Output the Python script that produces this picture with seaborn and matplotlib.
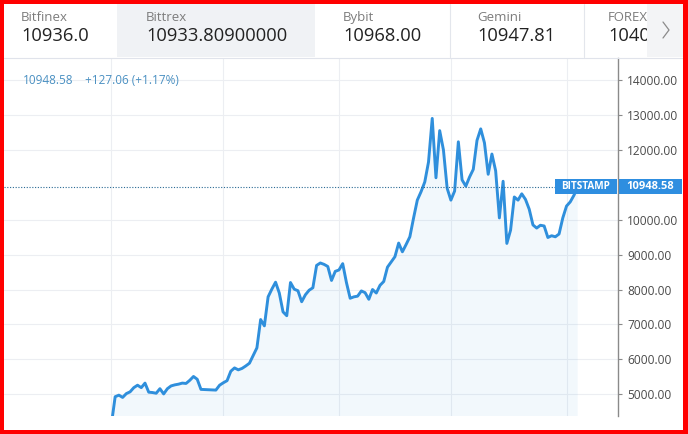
import numpy as np
import pandas as pd
import seaborn as sns
import matplotlib.pyplot as plt
import matplotlib.dates as mdates
import matplotlib.transforms as mtransforms
from matplotlib.patches import Rectangle
from matplotlib.lines import Line2D

# --- data (one close per day from 2019-04-01) ---
START = "2019-04-01"
prices = [
    4150, 4930, 4975, 4910, 5020, 5070, 5190, 5260, 5190, 5320,
    5060, 5050, 5030, 5160, 5010, 5160, 5240, 5270, 5290, 5320,
    5310, 5400, 5510, 5430, 5140, 5135, 5130, 5125, 5120, 5260,
    5330, 5390, 5660, 5755, 5700, 5740, 5810, 5890, 6110, 6330,
    7140, 6960, 7790, 8010, 8210, 7900, 7360, 7250, 8200, 8010,
    7965, 7650, 7850, 7980, 8050, 8690, 8760, 8720, 8660, 8260,
    8520, 8560, 8740, 8200, 7750, 7790, 7810, 7960, 7910, 7720,
    8000, 7900, 8120, 8230, 8640, 8790, 8940, 9330, 9080, 9290,
    9510, 10050, 10560, 10800, 11080, 11650, 12900, 11200, 12550, 12000,
    10900, 10560, 10820, 12230, 11140, 10960, 11220, 11440, 12270, 12600,
    12200, 11300, 11880, 11400, 10050, 11100, 9320, 9700, 10650, 10560,
    10740, 10580, 10300, 9850, 9760, 9840, 9820, 9490, 9540, 9510,
    9590, 10050, 10390, 10510, 10700, 10948.58,
]
last_price = 10948.58
change_text = "+127.06 (+1.17%)"
y_ticks = [5000, 6000, 7000, 8000, 9000, 10000, 12000, 13000, 14000]  # 11000 sits under the price label
exchanges = ["Bitfinex", "Bittrex", "Bybit", "Gemini", "FOREX.com"]
exchange_prices = ["10936.0", "10933.80900000", "10968.00", "10947.81", "10401.25"]

df = pd.DataFrame({"date": pd.date_range(START, periods=len(prices), freq="D"),
                   "price": prices})

sns.set_style("white")
plt.rcParams["font.family"] = ["Open Sans", "DejaVu Sans"]

W, H = 688, 434
BLUE = "#2f8fdc"
LABEL_BLUE = "#2e8ee0"


def fx(x):
    return x / W


def fy(y):
    return 1 - y / H


fig = plt.figure(figsize=(W / 100, H / 100), dpi=100)
fig.patch.set_facecolor("white")

# ---------------- chart ----------------
ax = fig.add_axes([fx(4), fy(416), fx(618) - fx(4), fy(58) - fy(416)])
sns.lineplot(data=df, x="date", y="price", ax=ax, color=BLUE, linewidth=2.1, zorder=3)
ax.fill_between(df["date"], df["price"], 0, color=BLUE, alpha=0.06, linewidth=0, zorder=2)

start = pd.Timestamp(START)
ax.set_xlim(mdates.date2num(start) - 28.8, mdates.date2num(start) + 135.8)
ax.set_ylim(4378, 14630)

ax.xaxis.set_major_locator(mdates.MonthLocator())
ax.tick_params(axis="x", length=0, labelbottom=False)
ax.set_xlabel("")
ax.set_ylabel("")

ax.yaxis.tick_right()
ax.set_yticks(y_ticks)
ax.set_yticklabels([f"{t:.2f}" for t in y_ticks])
ax.tick_params(axis="y", labelsize=8.6, labelcolor="#4a4a4a", color="#8a8a8a",
               length=3, width=0.8, pad=3.5)
ax.grid(True, color="#eceef2", linewidth=0.8, zorder=0)
ax.set_axisbelow(True)
for side in ["top", "left", "bottom"]:
    ax.spines[side].set_visible(False)
ax.spines["right"].set_color("#8a8a8a")
ax.spines["right"].set_linewidth(1.0)

# last price dotted line and labels
ax.axhline(last_price, xmin=0, xmax=(555 - 4) / (618 - 4), color="#2a6a94",
           linestyle=(0, (1, 1.5)), linewidth=0.8, zorder=4)
bt = mtransforms.blended_transform_factory(fig.transFigure, ax.transData)
half = 7.5 / 34.92 * 1000
ax.add_patch(Rectangle((fx(555), last_price - half), fx(617) - fx(555), 2 * half,
                       transform=bt, facecolor=LABEL_BLUE, edgecolor="none",
                       clip_on=False, zorder=5))
ax.add_patch(Rectangle((fx(618.5), last_price - half), fx(682) - fx(618.5), 2 * half,
                       transform=bt, facecolor=LABEL_BLUE, edgecolor="none",
                       clip_on=False, zorder=5))
ax.text(fx(586), last_price, "BITSTAMP", transform=bt, ha="center", va="center",
        color="white", fontsize=7.2, fontweight="bold", zorder=6, clip_on=False)
ax.text(fx(650), last_price, f"{last_price:.2f}", transform=bt, ha="center", va="center",
        color="white", fontsize=8, fontweight="bold", zorder=6, clip_on=False)

# legend line on the chart
fig.text(fx(23), fy(80), f"{last_price:.2f}", color="#4a90c2", fontsize=8.5, va="center")
fig.text(fx(85), fy(80), change_text, color="#4a90c2", fontsize=8.5, va="center")

# ---------------- header tabs ----------------
fig.patches.append(Rectangle((fx(117), fy(57)), fx(315) - fx(117), fy(4) - fy(57),
                             transform=fig.transFigure, facecolor="#f0f2f5",
                             edgecolor="none", zorder=1))
tab_x = [21, 146, 343, 477, 608]
for name, val, x in zip(exchanges, exchange_prices, tab_x):
    fig.text(fx(x), fy(17.5), name, color="#7c7c7c", fontsize=9.5, va="center", zorder=2)
    fig.text(fx(x), fy(36), val, color="#222222", fontsize=13.2, va="center", zorder=2)
for x in [450, 584]:
    fig.lines.append(Line2D([fx(x), fx(x)], [fy(4), fy(57)], transform=fig.transFigure,
                            color="#e3e6ec", linewidth=0.8, zorder=2))
# scroll arrow box (hides the clipped tab)
fig.patches.append(Rectangle((fx(647), fy(57)), fx(684) - fx(647), fy(4) - fy(57),
                             transform=fig.transFigure, facecolor="#f3f4f6",
                             edgecolor="none", zorder=3))
fig.lines.append(Line2D([fx(663), fx(669), fx(663)], [fy(22), fy(30), fy(38)],
                        transform=fig.transFigure, color="#8a8a8a", linewidth=0.9, zorder=4))
fig.lines.append(Line2D([fx(4), fx(684)], [fy(57.5), fy(57.5)], transform=fig.transFigure,
                        color="#e0e3eb", linewidth=0.8, zorder=4))

# red frame
for (x0, y0, w, h) in [(0, 0, W, 4), (0, 430, W, 4), (0, 0, 4, H), (683, 0, 5, H)]:
    fig.patches.append(Rectangle((fx(x0), fy(y0 + h)), w / W, h / H,
                                 transform=fig.transFigure, facecolor="#ff0000",
                                 edgecolor="none", zorder=10))

fig.savefig("out.png", dpi=100)
